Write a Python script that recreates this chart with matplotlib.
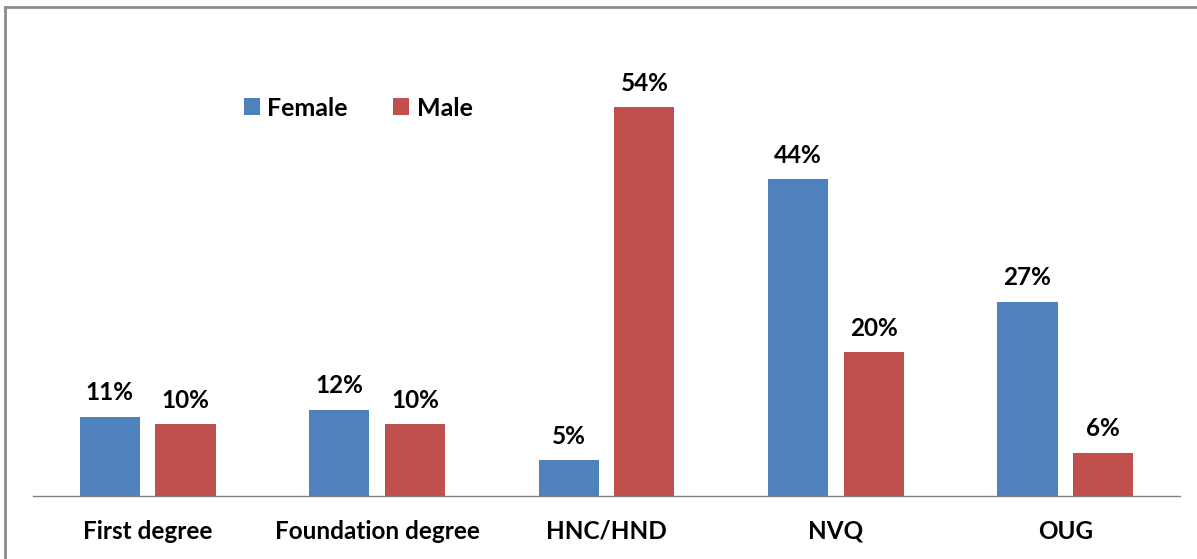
import matplotlib
matplotlib.use("Agg")
import matplotlib.pyplot as plt
import numpy as np

plt.rcParams['font.family'] = ['Lato', 'DejaVu Sans']

# --------------------------------------
# Data
# --------------------------------------
categories = ["First degree", "Foundation degree", "HNC/HND", "NVQ", "OUG"]
female = [11, 12, 5, 44, 27]
male = [10, 10, 54, 20, 6]

blue = "#4F81BD"
red = "#C0504D"

# --------------------------------------
# Plot
# --------------------------------------
fig = plt.figure(figsize=(11.97, 5.59), dpi=100)
ax = fig.add_axes([33 / 1197, 63 / 559, 1147 / 1197, 432 / 559])

x = np.arange(len(categories))
width = 0.262
off = 0.165

b1 = ax.bar(x - off, female, width, color=blue, label="Female")
b2 = ax.bar(x + off, male, width, color=red, label="Male")

for bars, vals in ((b1, female), (b2, male)):
    for rect, v in zip(bars, vals):
        ax.annotate(f"{v}%", (rect.get_x() + rect.get_width() / 2, v),
                    xytext=(0, 9), textcoords="offset points",
                    ha="center", va="bottom", fontsize=17.5, fontweight="bold")

ax.set_xlim(-0.5, len(categories) - 0.5)
ax.set_ylim(0, 60)
ax.set_xticks(x)
ax.set_xticklabels(categories, fontsize=17.5, fontweight="bold")
ax.tick_params(axis="x", length=0, pad=17)
ax.set_yticks([])

for s in ("top", "right", "left"):
    ax.spines[s].set_visible(False)
ax.spines["bottom"].set_color("#808080")
ax.spines["bottom"].set_linewidth(1)

leg = ax.legend(loc="center left", bbox_to_anchor=(0.164, 0.898), ncol=2,
                frameon=False, prop={"size": 18, "weight": "bold"},
                handlelength=0.65, handleheight=0.65, columnspacing=1.8,
                handletextpad=0.3)

# outer border (top and left edges visible)
fig.add_artist(plt.Line2D([5 / 1197, 5 / 1197], [0, 1 - 7 / 559],
                          transform=fig.transFigure, color="#8c8c8c", lw=2))
fig.add_artist(plt.Line2D([5 / 1197, 1], [1 - 7 / 559, 1 - 7 / 559],
                          transform=fig.transFigure, color="#8c8c8c", lw=2))

fig.savefig("out.png", dpi=100)
plt.close(fig)
